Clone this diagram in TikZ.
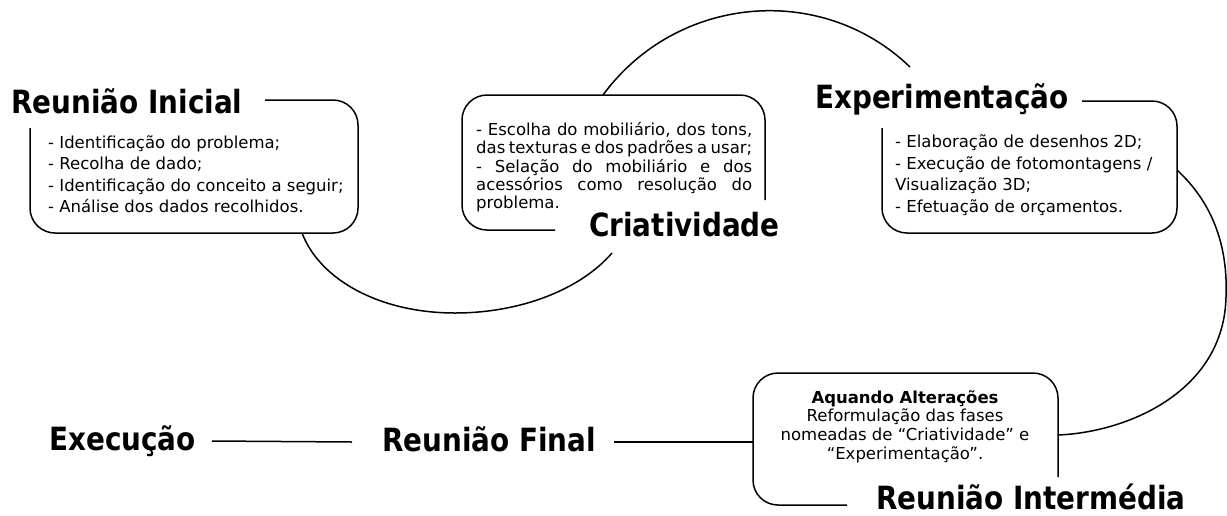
\documentclass[tikz,border=0pt]{standalone}
\usepackage{fontspec}
\setmainfont{DejaVu Sans}
\newfontfamily\phasefont{DejaVu Sans}[FakeStretch=0.87]

\tikzset{
  phase/.style={font=\phasefont\bfseries\fontsize{32}{32}\selectfont, inner sep=0pt,
    anchor=base west, text height=18pt, text depth=0pt},
  detail/.style={inner sep=0pt, anchor=north west, align=left},
  frame/.style={line width=1.5pt, rounded corners=25pt},
  link/.style={line width=1.5pt},
}

\begin{document}
\begin{tikzpicture}[x=1pt,y=-1pt]
\useasboundingbox (0,0) rectangle (1227,515);

% phase titles
\node[phase] (ini) at (11,113) {Reunião Inicial};
\node[phase] (cri) at (589,236) {Criatividade};
\node[phase] (exp) at (815,108) {Experimentação};
\node[phase] (int) at (876,509) {Reunião Intermédia};
\node[phase] (fin) at (382,451) {Reunião Final};
\node[phase] (exe) at (49,450) {Execução};

% details of each phase
\node[detail, font=\fontsize{16.5}{21.3}\selectfont] (iniText) at (48,135.5)
  {- Identificação do problema;\\- Recolha de dado;\\- Identificação do conceito a seguir;\\- Análise dos dados recolhidos.};
\node[detail, text width=276pt, align=justify, font=\fontsize{16.5}{18.25}\selectfont] (criText) at (476,122.3)
  {- Escolha do mobiliário, dos tons,\linebreak das texturas e dos padrões a usar;\linebreak - Selação do mobiliário e dos\linebreak acessórios como resolução do\linebreak problema.};
\node[detail, font=\fontsize{16.5}{21.7}\selectfont] (expText) at (895,134.3)
  {- Elaboração de desenhos 2D;\\- Execução de fotomontagens /\\Visualização 3D;\\- Efetuação de orçamentos.};
\node[detail, anchor=north, align=center, font=\fontsize{16.5}{18.7}\selectfont] (intText) at (905,390)
  {\textbf{Aquando Alterações}\\Reformulação das fases\\nomeadas de “Criatividade” e\\“Experimentação”.};

% open frames
\draw[frame] (265,100) -- (358,100) -- (358,233) -- (30,233) -- (30,128);
\draw[frame] (555,230) -- (462,230) -- (462,95) -- (765,95) -- (765,200);
\draw[frame] (1082,101) -- (1177,101) -- (1177,233) -- (882,233) -- (882,128);
\draw[frame] (847,505) -- (753,505) -- (753,373) -- (1058,373) -- (1058,477);

% curved connectors
\coordinate (iniOut) at (302,233);
\coordinate (criIn) at (612,253);
\coordinate (criOut) at (603,95);
\coordinate (expIn) at (910,67);
\coordinate (expOut) at (1177,170);
\coordinate (intIn) at (1058,435);
\coordinate (intLeft) at (753,442);

\draw[link] (iniOut) .. controls (320,280) and (380,313) .. (455,313)
  .. controls (520,313) and (580,290) .. (criIn);
\draw[link] (criOut) .. controls (676,-4.5) and (821,-18.6) .. (expIn);
\draw[link] (expOut) .. controls (1215,205) and (1228,250) .. (1226,297)
  .. controls (1224,390) and (1130,432) .. (intIn);

% straight connectors
\draw[link] ([xshift=16pt]exe.east) -- ([xshift=-30pt]fin.west);
\draw[link] ([xshift=18pt]fin.east) -- (fin.east -| intLeft);
\end{tikzpicture}
\end{document}
